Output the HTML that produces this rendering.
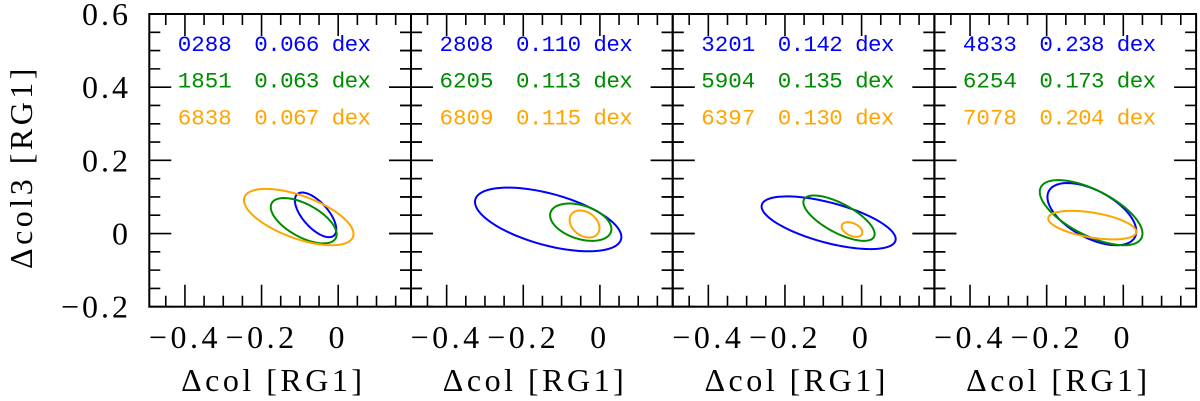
<!DOCTYPE html>
<html><head><meta charset="utf-8"><style>
body{margin:0;background:#fff;}
svg{display:block;}
text{font-family:"Liberation Serif",serif;}
.ann{font-family:"Liberation Mono",monospace;font-size:22.5px;}
</style></head><body>
<svg id="chart" width="1200" height="401" viewBox="0 0 1200 401"></svg>
<script>
// data
const panelLeft0 = 149.3, panelW = 261.7, panelTop = 14, panelBot = 306.7;
const xMin = -0.493, xMax = 0.19;
const yMin = -0.2, yMax = 0.6;
const xTicks = [-0.4, -0.2, 0];
const xTickLabels = ["\u22120.4", "\u22120.2", "0"];
const yTicks = [-0.2, 0, 0.2, 0.4, 0.6];
const yTickLabels = ["\u22120.2", "0", "0.2", "0.4", "0.6"];
const seriesColors = ["#0000ff", "#008c00", "#ffa500"];
const seriesNames = ["blue", "green", "orange"];
const ids = [["0288","1851","6838"],["2808","6205","6809"],["3201","5904","6397"],["4833","6254","7078"]];
const dexVals = [["0.066","0.063","0.067"],["0.110","0.113","0.115"],["0.142","0.135","0.130"],["0.238","0.173","0.204"]];
// ellipses: per panel, per series [cx, cy, ax, ay, rho]
const ellCx = [[-0.059,-0.090,-0.103],[-0.135,-0.050,-0.040],[-0.086,-0.059,-0.025],[-0.082,-0.084,-0.081]];
const ellCy = [[0.051,0.035,0.045],[0.0385,0.031,0.026],[0.0295,0.042,0.011],[0.053,0.057,0.023]];
const ellAx = [[0.054,0.086,0.143],[0.191,0.080,0.039],[0.175,0.093,0.027],[0.116,0.134,0.115]];
const ellAy = [[0.061,0.062,0.077],[0.087,0.051,0.037],[0.072,0.062,0.020],[0.085,0.089,0.039]];
const ellRho = [[-0.65,-0.6,-0.6],[-0.55,-0.37,-0.3],[-0.62,-0.7,-0.4],[-0.55,-0.64,-0.47]];

const NS = "http://www.w3.org/2000/svg";
const svg = document.getElementById("chart");
function mk(tag, attrs, parent){const e=document.createElementNS(NS,tag);for(const k in attrs)e.setAttribute(k,attrs[k]);(parent||svg).appendChild(e);return e;}
function yPx(v){return panelBot-(v-yMin)/(yMax-yMin)*(panelBot-panelTop);}
function xPx(p,v){return panelLeft0+p*panelW+(v-xMin)/(xMax-xMin)*panelW;}

for(let p=0;p<4;p++){
  const g=mk("g",{});
  
  
  const L=panelLeft0+p*panelW, R=L+panelW;
  let d="";
  for(let i=0;i<=16;i++){
    const v=yMin+i*0.05, y=yPx(v), major=(i%4===0);
    const len=major?22:11;
    d+=`M${L},${y}h${len}M${R},${y}h${-len}`;
    if(p>0) d+=`M${L},${y}h${-len}`;
    if(p<3) d+=`M${R},${y}h${len}`;
  }
  for(let i=-10;i<=4;i++){
    const v=i*0.05; if(v<xMin||v>xMax) continue;
    const x=xPx(p,v), major=(i%4===0);
    const len=major?22:11;
    d+=`M${x},${panelBot}v${-len}M${x},${panelTop}v${len}`;
  }
  const ticks=mk("path",{d:d,stroke:"#000","stroke-width":1.6,fill:"none"},g);
  
  
  const frame=mk("rect",{x:L,y:panelTop,width:panelW,height:panelBot-panelTop,fill:"none",stroke:"#000","stroke-width":2},g);
  
  
  xTicks.forEach((v,i)=>{
    const t=mk("text",{x:xPx(p,v),y:348,"text-anchor":"middle","font-size":32,"letter-spacing":3.5},g);
    t.textContent=xTickLabels[i];
    
    
  });
  const xt=mk("text",{x:L+124,y:391,"text-anchor":"middle","font-size":32,"letter-spacing":3.5},g);
  xt.textContent="\u0394col [RG1]";
  
  
  for(let s=0;s<3;s++){
    const yy=51+s*36.7;
    const a=mk("text",{x:L+28.5,y:yy,fill:seriesColors[s],class:"ann"},g);
    a.textContent=ids[p][s];
    
    
    const b=mk("text",{x:L+105,y:yy,fill:seriesColors[s],class:"ann","letter-spacing":-0.6},g);
    b.textContent=dexVals[p][s]+" dex";
    
    
  }
  for(let s=0;s<3;s++){
    const cx=ellCx[p][s],cy=ellCy[p][s],ax=ellAx[p][s],ay=ellAy[p][s],r=ellRho[p][s];
    const q=Math.sqrt(1-r*r);
    let pd="";
    for(let k=0;k<=120;k++){
      const t=k/120*2*Math.PI;
      const vx=cx+ax*Math.cos(t), vy=cy+ay*(r*Math.cos(t)+q*Math.sin(t));
      pd+=(k?"L":"M")+xPx(p,vx).toFixed(2)+","+yPx(vy).toFixed(2);
    }
    const e=mk("path",{d:pd+"Z",fill:"none",stroke:seriesColors[s],"stroke-width":2},g);
    
    
  }
}
yTicks.forEach((v,i)=>{
  const t=mk("text",{x:131,y:yPx(v)+11,"text-anchor":"end","font-size":32,"letter-spacing":3});
  t.textContent=yTickLabels[i];
  
  
});
const yt=mk("text",{x:0,y:0,"text-anchor":"middle","font-size":32,"letter-spacing":3.5,transform:"translate(32,167) rotate(-90)"});
yt.textContent="\u0394col3 [RG1]";


</script>
</body></html>
